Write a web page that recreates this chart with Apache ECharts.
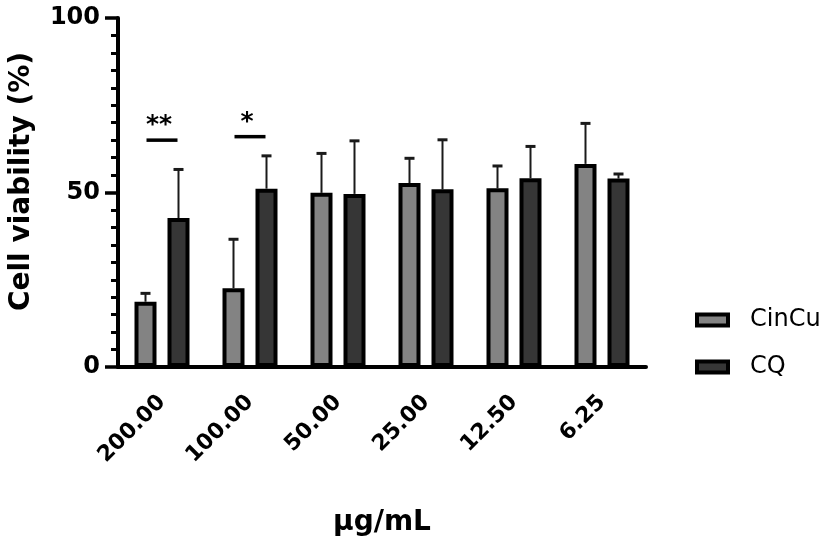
<!DOCTYPE html>
<html><head><meta charset="utf-8">
<script src="https://cdn.jsdelivr.net/npm/echarts@6/dist/echarts.min.js"></script>
<style>html,body{margin:0;padding:0;background:#fff}#c{width:827px;height:542px}</style>
</head><body><div id="c"></div>
<script>
// ---- data ----
const categories = ['200.00', '100.00', '50.00', '25.00', '12.50', '6.25'];
const cincuMean = [18.7, 22.6, 49.9, 52.7, 51.2, 58.2];
const cincuSD   = [2.4, 14.0, 11.3, 7.1, 6.4, 11.6];
const cqMean    = [42.7, 51.1, 49.6, 50.9, 54.1, 54.0];
const cqSD      = [13.9, 9.4, 15.2, 14.2, 9.1, 1.3];
const sigCategoryIndex = [0, 1];
const sigLabels = ['**', '*'];
const sigLineY  = [65.0, 66.0];
const yTicks = [0, 50, 100];

// ---- style constants ----
const BOLD = 'DejaVu Sans';
const BAR_W = 22, BAR_GAP = '50%', BAR_OFFSET = 16.5, CAP = 10;

function errRender(sign) {
  return function (params, api) {
    const i = api.value(0), m = api.value(1), sd = api.value(2);
    const base = api.coord([i, m]);
    const top = api.coord([i, m + sd]);
    const cx = base[0] + sign * BAR_OFFSET;
    return {
      type: 'group',
      children: [
        { type: 'line', shape: { x1: cx, y1: base[1], x2: cx, y2: top[1] }, style: { stroke: '#1a1a1a', lineWidth: 2 } },
        { type: 'line', shape: { x1: cx - CAP / 2, y1: top[1], x2: cx + CAP / 2, y2: top[1] }, style: { stroke: '#1a1a1a', lineWidth: 3 } }
      ]
    };
  };
}

function sigRender(params, api) {
  const i = api.value(0), y = api.value(1);
  const p = api.coord([i, y]);
  const label = sigLabels[params.dataIndex];
  return {
    type: 'group',
    children: [
      { type: 'line', shape: { x1: p[0] - 15.5, y1: p[1], x2: p[0] + 15.5, y2: p[1] }, style: { stroke: '#000', lineWidth: 3.5 } },
      { type: 'text', x: p[0] - 3, y: p[1] - 2, style: { text: label, fill: '#000', font: 'bold 25px "DejaVu Sans"', align: 'center', verticalAlign: 'bottom' } }
    ]
  };
}

const chart = echarts.init(document.getElementById('c'));
chart.setOption({
  animation: false,
  backgroundColor: '#fff',
  grid: { left: 114, right: 181, top: 18, bottom: 175 },
  legend: {
    data: ['CinCu', 'CQ'],
    orient: 'vertical',
    left: 695, top: 308, padding: 0,
    icon: 'rect',
    itemWidth: 31, itemHeight: 11, itemGap: 23,
    selectedMode: false,
    itemStyle: { borderColor: '#000', borderWidth: 4 },
    textStyle: { fontFamily: 'DejaVu Sans', fontSize: 24, color: '#000', lineHeight: 24, padding: [0, 0, 0, 17] }
  },
  xAxis: {
    type: 'category',
    data: categories,
    axisLine: { lineStyle: { color: '#000', width: 4 } },
    axisTick: { alignWithLabel: true, length: 14, lineStyle: { color: '#000', width: 4 } },
    axisLabel: { rotate: 45, margin: 32, color: '#000', fontFamily: BOLD, fontWeight: 'bold', fontSize: 22, interval: 0 },
    name: 'μg/mL', nameLocation: 'middle', nameGap: 142,
    nameTextStyle: { color: '#000', fontFamily: BOLD, fontWeight: 'bold', fontSize: 28 }
  },
  yAxis: {
    type: 'value', min: 0, max: 100, interval: 50,
    axisLine: { show: true, lineStyle: { color: '#000', width: 4 } },
    axisTick: { show: true, length: 13, lineStyle: { color: '#000', width: 3.5 } },
    minorTick: { show: true, splitNumber: 10, length: 7, lineStyle: { color: '#000', width: 3 } },
    splitLine: { show: false },
    axisLabel: { color: '#000', fontFamily: BOLD, fontWeight: 'bold', fontSize: 24, margin: 18,
      formatter: v => yTicks.includes(v) ? String(v) : '' },
    name: 'Cell viability (%)', nameLocation: 'middle', nameGap: 82,
    nameTextStyle: { color: '#000', fontFamily: BOLD, fontWeight: 'bold', fontSize: 28, padding: [0, 0, 0, 22] }
  },
  series: [
    { name: 'CinCu', type: 'bar', data: cincuMean, barWidth: BAR_W, barGap: BAR_GAP, z: 3,
      itemStyle: { color: '#838383', borderColor: '#000', borderWidth: 4 } },
    { name: 'CQ', type: 'bar', data: cqMean, barWidth: BAR_W, barGap: BAR_GAP, z: 3,
      itemStyle: { color: '#363636', borderColor: '#000', borderWidth: 4 } },
    { type: 'custom', name: 'errCinCu', renderItem: errRender(-1), z: 2,
      data: categories.map((c, i) => [i, cincuMean[i], cincuSD[i]]) },
    { type: 'custom', name: 'errCQ', renderItem: errRender(1), z: 2,
      data: categories.map((c, i) => [i, cqMean[i], cqSD[i]]) },
    { type: 'custom', name: 'sig', renderItem: sigRender, z: 4,
      data: sigCategoryIndex.map((ci, k) => [ci, sigLineY[k]]) }
  ]
});
</script></body></html>
